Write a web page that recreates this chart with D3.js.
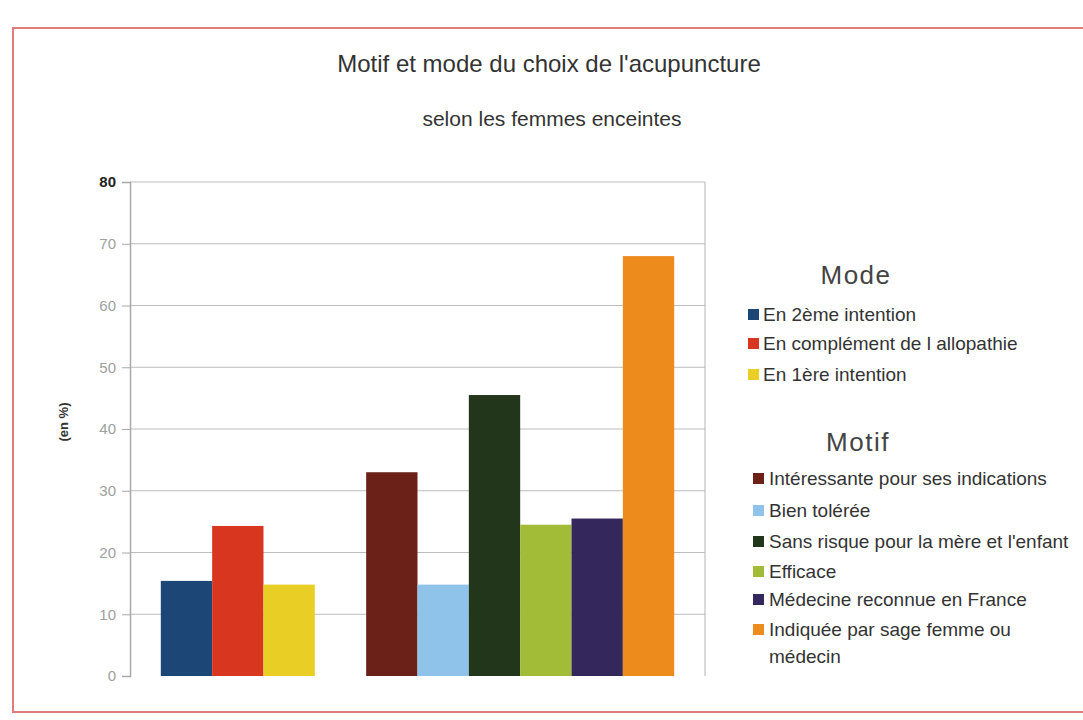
<!DOCTYPE html>
<html>
<head>
<meta charset="utf-8">
<script src="https://cdn.jsdelivr.net/npm/d3@7"></script>
<style>
body { margin: 0; background: #fff; }
svg text { font-family: "Liberation Sans", Arial, sans-serif; }
</style>
</head>
<body>
<svg width="1083" height="720"></svg>
<script>
// values (en %)
var modeLabels = ['En 2ème intention', 'En complément de l allopathie', 'En 1ère intention'];
var modeValues = [15.4, 24.3, 14.8];
var modeColors = ['#1b4675', '#d8361f', '#e9cf25'];

var motifLabels = ['Intéressante pour ses indications', 'Bien tolérée', 'Sans risque pour la mère et l\'enfant',
	'Efficace', 'Médecine reconnue en France', 'Indiquée par sage femme ou|médecin'];
var motifValues = [33, 14.8, 45.5, 24.5, 25.5, 68];
var motifColors = ['#6b2118', '#8fc3ea', '#22361c', '#a3bc38', '#33275c', '#ee8b1d'];

var yTicks = [0, 10, 20, 30, 40, 50, 60, 70, 80];

var svg = d3.select('svg');
var plotLeft = 130, plotRight = 705, plotTop = 182, plotBottom = 676;

// frame of the scanned page
svg.append('rect')
	.attr('x', 13).attr('y', 28).attr('width', 1085).attr('height', 684)
	.attr('fill', 'none').attr('stroke', '#e07c7c').attr('stroke-width', 2);

svg.append('text').attr('x', 549).attr('y', 72).attr('text-anchor', 'middle')
	.attr('font-size', 24).attr('fill', '#333').text('Motif et mode du choix de l\'acupuncture');
svg.append('text').attr('x', 552).attr('y', 126).attr('text-anchor', 'middle')
	.attr('font-size', 21).attr('fill', '#333').text('selon les femmes enceintes');

var bars = [];
modeValues.forEach(function(v, i){ bars.push({key: 'a' + i, v: v, c: modeColors[i]}); });
var slots = bars.map(function(d){ return d.key; }).concat(['gap']);
motifValues.forEach(function(v, i){ bars.push({key: 'b' + i, v: v, c: motifColors[i]}); slots.push('b' + i); });

var x = d3.scaleBand().domain(slots).range([plotLeft, plotRight]).paddingInner(0).paddingOuter(0.6);
var y = d3.scaleLinear().domain([0, 80]).range([plotBottom, plotTop]);

// grid
svg.append('g').selectAll('line').data(yTicks.slice(1)).enter().append('line')
	.attr('x1', plotLeft).attr('x2', plotRight)
	.attr('y1', function(d){ return y(d); }).attr('y2', function(d){ return y(d); })
	.attr('stroke', '#bdbdbd').attr('stroke-width', 1);
svg.append('line').attr('x1', plotRight).attr('x2', plotRight).attr('y1', plotTop).attr('y2', plotBottom)
	.attr('stroke', '#b5b5b5');

var axis = svg.append('g').attr('transform', 'translate(' + plotLeft + ',0)')
	.call(d3.axisLeft(y).tickValues(yTicks).tickSize(8).tickPadding(6));
axis.select('.domain').attr('stroke', '#a8a8a8').attr('stroke-width', 1.5);
axis.selectAll('.tick line').attr('stroke', '#a8a8a8');
axis.selectAll('.tick text')
	.attr('font-family', '"Liberation Sans", Arial, sans-serif').attr('font-size', 15)
	.attr('fill', function(d){ return d == 80 ? '#222' : '#a0a0a0'; })
	.attr('font-weight', function(d){ return d == 80 ? 'bold' : 'normal'; });

svg.append('text').attr('transform', 'translate(68,422) rotate(-90)')
	.attr('text-anchor', 'middle').attr('font-size', 13).attr('font-weight', 'bold')
	.attr('fill', '#333').text('(en %)');

svg.append('g').selectAll('rect').data(bars).enter().append('rect')
	.attr('x', function(d){ return x(d.key); })
	.attr('width', x.bandwidth())
	.attr('y', function(d){ return y(d.v); })
	.attr('height', function(d){ return y(0) - y(d.v); })
	.attr('fill', function(d){ return d.c; });

// legends
svg.append('text').attr('x', 856).attr('y', 284).attr('text-anchor', 'middle')
	.attr('font-family', '"DejaVu Sans", sans-serif').attr('font-size', 26).attr('letter-spacing', 1.5)
	.attr('fill', '#444').text('Mode');
var modeY = [321, 350, 381];
modeLabels.forEach(function(t, i){
	svg.append('rect').attr('x', 748).attr('y', modeY[i] - 12).attr('width', 11).attr('height', 11).attr('fill', modeColors[i]);
	svg.append('text').attr('x', 763).attr('y', modeY[i]).attr('font-size', 19).attr('fill', '#333').text(t);
});

svg.append('text').attr('x', 858).attr('y', 451).attr('text-anchor', 'middle')
	.attr('font-family', '"DejaVu Sans", sans-serif').attr('font-size', 26).attr('letter-spacing', 1.5)
	.attr('fill', '#444').text('Motif');
var motifY = [485, 517, 548, 578, 606, 636];
motifLabels.forEach(function(t, i){
	svg.append('rect').attr('x', 753).attr('y', motifY[i] - 12).attr('width', 11).attr('height', 11).attr('fill', motifColors[i]);
	var txt = svg.append('text').attr('x', 769).attr('y', motifY[i]).attr('font-size', 19).attr('fill', '#333');
	t.split('|').forEach(function(part, k){
		txt.append('tspan').attr('x', 769).attr('dy', k ? 27 : 0).text(part);
	});
});
</script>
</body>
</html>
